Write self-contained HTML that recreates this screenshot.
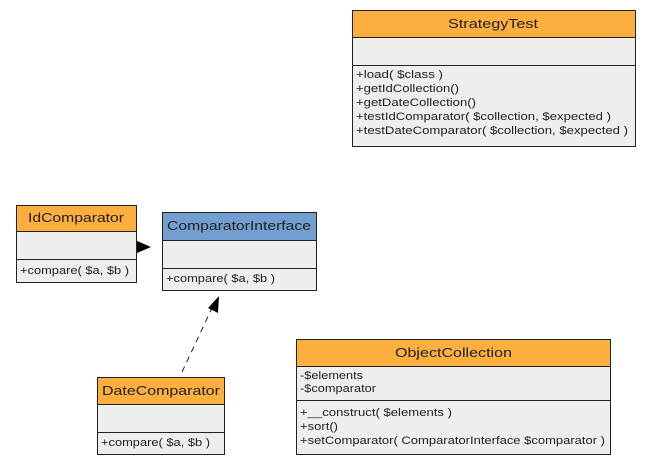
<!DOCTYPE html>
<html><head><style>body{margin:0;background:#fff}svg{display:block}text{font-family:"Liberation Sans",sans-serif;fill:#222}</style></head><body>
<svg width="651" height="465" viewBox="0 0 651 465" xmlns="http://www.w3.org/2000/svg">
<g stroke="#222" stroke-width="1">
<rect x="352.5" y="10.5" width="283" height="27" fill="#fcae3e"/>
<rect x="352.5" y="37.5" width="283" height="28" fill="#eeeeec"/>
<rect x="352.5" y="65.5" width="283" height="81" fill="#eeeeec"/>
<rect x="16.5" y="205.5" width="120" height="26" fill="#fcae3e"/>
<rect x="16.5" y="231.5" width="120" height="28" fill="#eeeeec"/>
<rect x="16.5" y="259.5" width="120" height="23" fill="#eeeeec"/>
<rect x="162.5" y="212.5" width="154" height="28" fill="#729fcf"/>
<rect x="162.5" y="240.5" width="154" height="28" fill="#eeeeec"/>
<rect x="162.5" y="268.5" width="154" height="22" fill="#eeeeec"/>
<rect x="97.5" y="377.5" width="127" height="27" fill="#fcae3e"/>
<rect x="97.5" y="404.5" width="127" height="28" fill="#eeeeec"/>
<rect x="97.5" y="432.5" width="127" height="22" fill="#eeeeec"/>
<rect x="296.5" y="339.5" width="314" height="27" fill="#fcae3e"/>
<rect x="296.5" y="366.5" width="314" height="34" fill="#eeeeec"/>
<rect x="296.5" y="400.5" width="314" height="54" fill="#eeeeec"/>
<line x1="182" y1="372" x2="212" y2="308" stroke-dasharray="6,5"/>
</g>
<polygon points="137,241 151,247 137,253" fill="#000"/>
<polygon points="219,296 218,313 208,308" fill="#000"/>
<g font-size="13" lengthAdjust="spacingAndGlyphs">
<text x="448" y="28" textLength="90" lengthAdjust="spacingAndGlyphs">StrategyTest</text>
<text x="28" y="222" textLength="96" lengthAdjust="spacingAndGlyphs">IdComparator</text>
<text x="167" y="230" textLength="144" lengthAdjust="spacingAndGlyphs">ComparatorInterface</text>
<text x="102" y="395" textLength="118" lengthAdjust="spacingAndGlyphs">DateComparator</text>
<text x="395" y="357" textLength="117" lengthAdjust="spacingAndGlyphs">ObjectCollection</text>
</g>
<g font-size="11">
<text x="356" y="78" textLength="87" lengthAdjust="spacingAndGlyphs">+load( $class )</text>
<text x="356" y="92" textLength="103" lengthAdjust="spacingAndGlyphs">+getIdCollection()</text>
<text x="356" y="106" textLength="120" lengthAdjust="spacingAndGlyphs">+getDateCollection()</text>
<text x="356" y="120" textLength="255" lengthAdjust="spacingAndGlyphs">+testIdComparator( $collection, $expected )</text>
<text x="356" y="134" textLength="272" lengthAdjust="spacingAndGlyphs">+testDateComparator( $collection, $expected )</text>
<text x="20" y="274" textLength="109" lengthAdjust="spacingAndGlyphs">+compare( $a, $b )</text>
<text x="166" y="282" textLength="109" lengthAdjust="spacingAndGlyphs">+compare( $a, $b )</text>
<text x="101" y="446" textLength="109" lengthAdjust="spacingAndGlyphs">+compare( $a, $b )</text>
<text x="300" y="379" textLength="63" lengthAdjust="spacingAndGlyphs">-$elements</text>
<text x="300" y="392" textLength="76" lengthAdjust="spacingAndGlyphs">-$comparator</text>
<text x="300" y="416" textLength="152" lengthAdjust="spacingAndGlyphs">+__construct( $elements )</text>
<text x="300" y="430" textLength="38" lengthAdjust="spacingAndGlyphs">+sort()</text>
<text x="300" y="444" textLength="305" lengthAdjust="spacingAndGlyphs">+setComparator( ComparatorInterface $comparator )</text>
</g>
</svg>
</body></html>
